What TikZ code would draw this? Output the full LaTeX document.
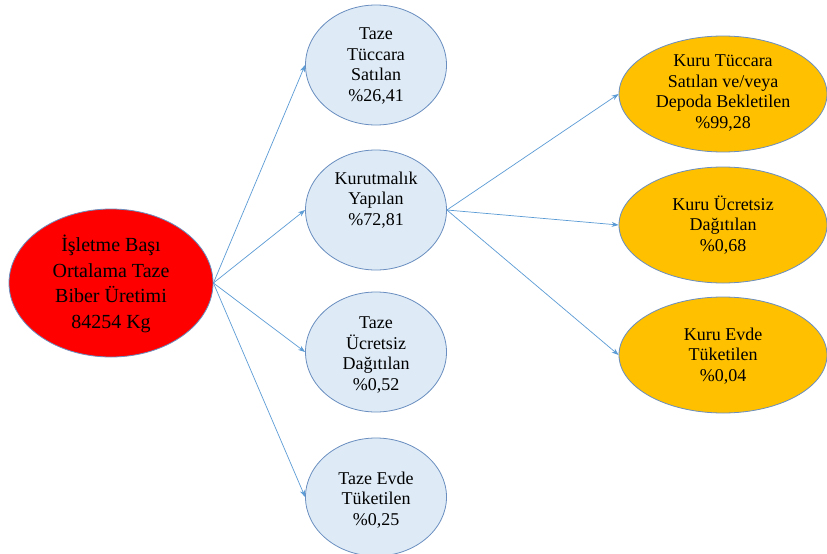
\documentclass[tikz,border=0pt]{standalone}
\usepackage{fontspec}
\setmainfont{Liberation Serif}
\usetikzlibrary{shapes.geometric,arrows.meta}
\definecolor{bluefill}{HTML}{DEEBF7}
\definecolor{edgecol}{HTML}{6A8EBF}
\definecolor{arrowcol}{HTML}{5B9BD5}
\definecolor{orangefill}{HTML}{FFC000}
\definecolor{redfill}{HTML}{FF0000}
\tikzset{
  bubble/.style={ellipse, draw=edgecol, line width=0.8pt, inner sep=0pt},
  bluebubble/.style={bubble, fill=bluefill, minimum width=141pt, minimum height=120pt},
  orangebubble/.style={bubble, fill=orangefill, minimum width=208pt, minimum height=116pt},
  txt/.style={align=center, font=\fontsize{18}{20.5}\selectfont, text=black},
  bigtxt/.style={align=center, font=\fontsize{20}{25.5}\selectfont, text=black},
  conn/.style={draw=arrowcol, line width=0.7pt, -{Stealth[length=7pt,width=5pt]}}
}
\begin{document}
\begin{tikzpicture}[x=1pt,y=-1pt]
\useasboundingbox (0,0) rectangle (827,554);
\clip (0,0) rectangle (827,554);
\fill[white] (0,0) rectangle (827,554);
% red source
\node[bubble, fill=redfill, minimum width=204pt, minimum height=148pt] (src) at (111,283) {};
\node[bigtxt] (srct) at (111,284) {İşletme Başı\\Ortalama Taze\\Biber Üretimi\\84254 Kg};
% blue
\node[bluebubble] (b1) at (376,65) {};
\node[txt] (b1t) at (376,66) {Taze\\Tüccara\\Satılan\\\%26,41};
\node[bluebubble] (b2) at (376,210) {};
\node[txt] (b2t) at (376,200) {Kurutmalık\\Yapılan\\\%72,81};
\node[bluebubble] (b3) at (376,352) {};
\node[txt] (b3t) at (376,355) {Taze\\Ücretsiz\\Dağıtılan\\\%0,52};
\node[bluebubble, minimum height=118pt] (b4) at (376,497) {};
\node[txt] (b4t) at (376,500) {Taze Evde\\Tüketilen\\\%0,25};
% orange
\node[orangebubble] (o1) at (723,94) {};
\node[txt] (o1t) at (723,93) {Kuru Tüccara\\Satılan ve/veya\\Depoda Bekletilen\\\%99,28};
\node[orangebubble] (o2) at (723,225) {};
\node[txt] (o2t) at (723,225) {Kuru Ücretsiz\\Dağıtılan\\\%0,68};
\node[orangebubble] (o3) at (723,355) {};
\node[txt] (o3t) at (723,356) {Kuru Evde\\Tüketilen\\\%0,04};
% connectors
\draw[conn] (src.east) -- (b1.west);
\draw[conn] (src.east) -- (b2.west);
\draw[conn] (src.east) -- (b3.west);
\draw[conn] (src.east) -- (b4.west);
\draw[conn] (b2.east) -- (o1.west);
\draw[conn] (b2.east) -- (o2.west);
\draw[conn] (b2.east) -- (o3.west);
\end{tikzpicture}
\end{document}
